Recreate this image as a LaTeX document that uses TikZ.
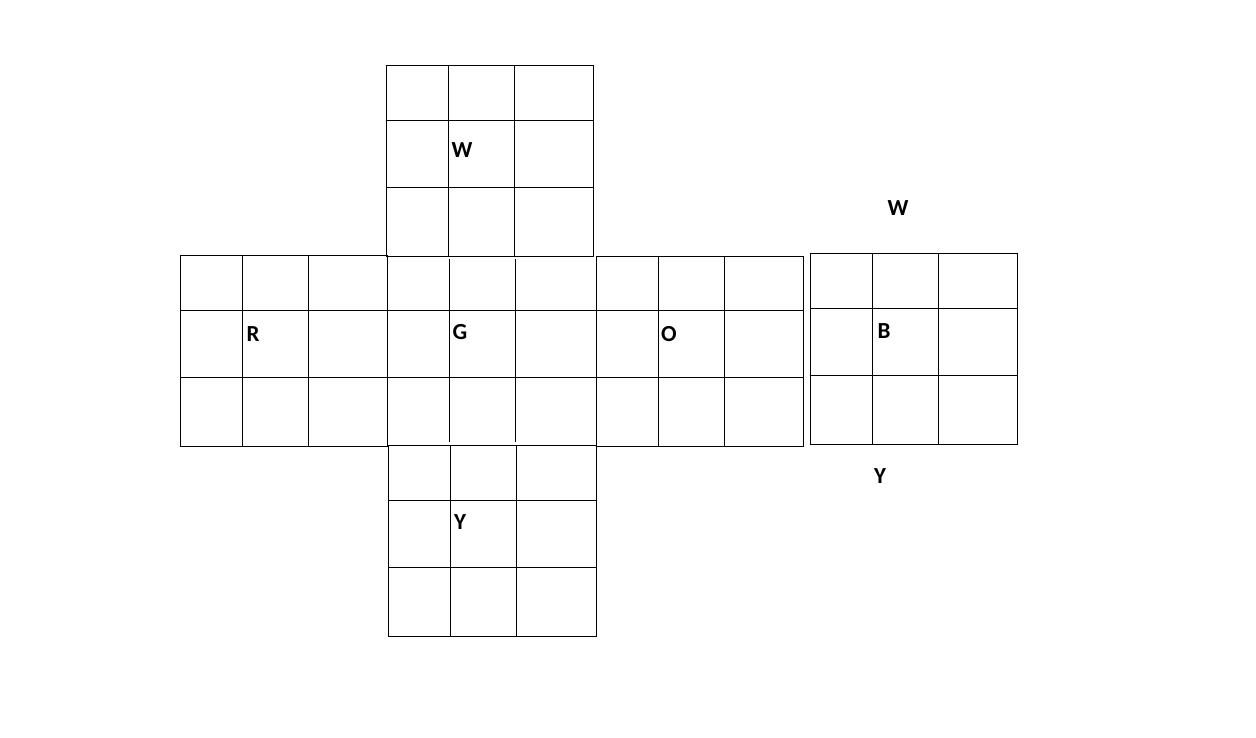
\documentclass[tikz,border=0pt]{standalone}
\usepackage{fontspec}
\setmainfont{Carlito}
\usepackage{tikz}

% one face of the cube: column lines #1..#4, row lines #5..#8
\newcommand{\facegrid}[8]{%
    \draw (#1,#5) rectangle (#4,#8);
    \draw (#2,#5) -- (#2,#8) (#3,#5) -- (#3,#8);
    \draw (#1,#6) -- (#4,#6) (#1,#7) -- (#4,#7);
}

\tikzset{
    facelbl/.style={inner sep=0pt, font=\fontsize{23}{23}\selectfont\bfseries}
}

\begin{document}
\begin{tikzpicture}[x=1pt, y=-1pt, line width=1pt]
    \useasboundingbox (0,0) rectangle (1256,737);

    \facegrid{386}{448}{514}{593}{65}{120}{187}{256}
    \facegrid{180}{242}{308}{387}{255}{310}{377}{446}
    \facegrid{596}{658}{724}{803}{256}{310}{377}{446}
    \facegrid{810}{872}{938}{1017}{253}{308}{375}{444}
    \facegrid{388}{450}{516}{596}{445}{500}{567}{636}

    % middle face, open at top and bottom
    \foreach \x in {387,449,515,596}
        \draw (\x,259) -- (\x,442);
    \draw (387,310) -- (596,310) (387,377) -- (596,377);

    \node[facelbl] (lblW) at (462,150) {W};
    \node[facelbl] (lblR) at (253,334) {R};
    \node[facelbl] (lblG) at (460,332) {G};
    \node[facelbl] (lblO) at (669,334) {O};
    \node[facelbl] (lblB) at (884,331.5) {B};
    \node[facelbl] (lblY) at (460,522.5) {Y};
    \node[facelbl] (topW) at (898,208.5) {W};
    \node[facelbl] (botY) at (880,476.5) {Y};
\end{tikzpicture}
\end{document}
